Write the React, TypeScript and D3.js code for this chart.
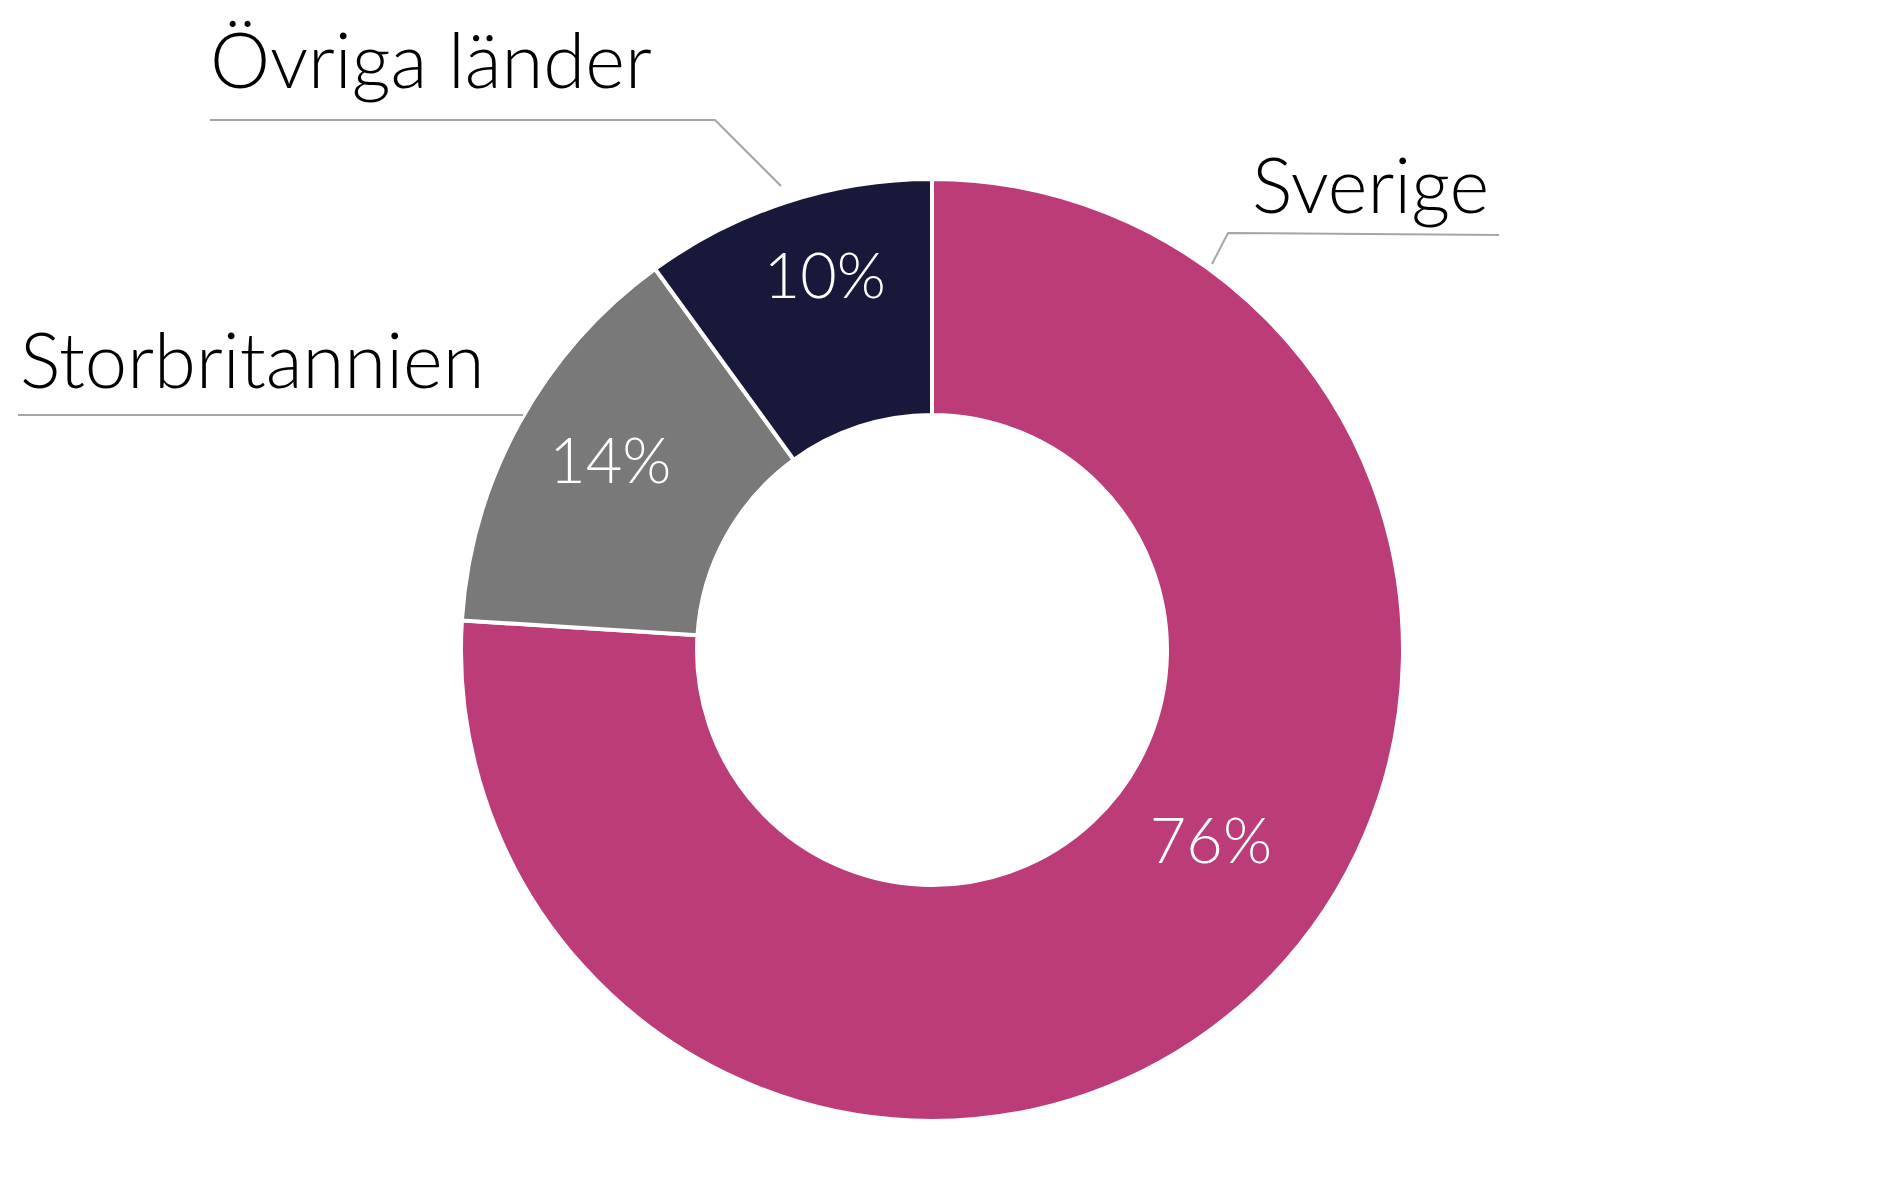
import React from "react";
import * as d3 from "d3";

const categories = ["Sverige", "Storbritannien", "Övriga länder"];
const values = [76, 14, 10];
const colors = ["#BC3C78", "#797979", "#18193A"];

const W = 1884;
const H = 1184;
const CX = 932;
const CY = 650;
const R_OUT = 471;
const R_IN = 235;

// label layout (positions for category labels and leader lines)
const catLabelPos: Record<string, { x: number; y: number; anchor: string }> = {
  "Sverige": { x: 1252, y: 213, anchor: "start" },
  "Storbritannien": { x: 20, y: 388, anchor: "start" },
  "Övriga länder": { x: 210, y: 88, anchor: "start" },
};
const leaders: Record<string, [number, number][]> = {
  "Sverige": [[1499, 235], [1228, 233], [1212, 264]],
  "Storbritannien": [[18, 415], [523, 415]],
  "Övriga länder": [[210, 120], [715, 120], [781, 186]],
};
const pctPos: Record<string, { r: number; da: number }> = {
  "Sverige": { r: 338, da: -12.4 },
  "Storbritannien": { r: 373, da: 1.6 },
  "Övriga länder": { r: 389, da: 2 },
};

export default function App() {
  const data = categories.map((c, i) => ({ c, v: values[i], color: colors[i] }));
  const pie = d3.pie<any>().value((d) => d.v).sort(null);
  const arcs = pie(data);
  const arc = d3.arc<any>().innerRadius(R_IN).outerRadius(R_OUT);
  const line = d3.line();
  const font = "Lato, 'Noto Sans', sans-serif";

  return (
    <svg width={W} height={H} style={{ position: "absolute", left: 0, top: 0, background: "#fff" }}>
      <g transform={`translate(${CX},${CY})`}>
        {arcs.map((a) => (
          <path key={a.data.c} d={arc(a) as string} fill={a.data.color} stroke="#fff" strokeWidth={4} />
        ))}
        {arcs.map((a) => {
          const p = pctPos[a.data.c];
          const mid = (a.startAngle + a.endAngle) / 2 + (p.da * Math.PI) / 180;
          const x = p.r * Math.sin(mid);
          const y = -p.r * Math.cos(mid);
          return (
            <text key={a.data.c} x={x} y={y} dy="0.35em" textAnchor="middle" fill="#fff"
              fontFamily={font} fontWeight={300} fontSize={63}>
              {a.data.v}%
            </text>
          );
        })}
      </g>
      {categories.map((c) => (
        <path key={"l" + c} d={line(leaders[c]) as string} fill="none" stroke="#A6A6A6" strokeWidth={2} />
      ))}
      {categories.map((c) => (
        <text key={"t" + c} x={catLabelPos[c].x} y={catLabelPos[c].y} textAnchor={catLabelPos[c].anchor as any}
          fontFamily={font} fontWeight={300} fontSize={76} fill="#000">
          {c}
        </text>
      ))}
    </svg>
  );
}
